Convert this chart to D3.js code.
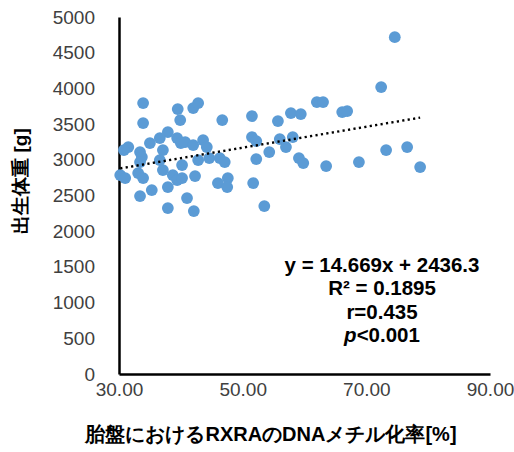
<!DOCTYPE html>
<html>
<head>
<meta charset="utf-8">
<script src="https://cdn.jsdelivr.net/npm/d3@7"></script>
<style>
  html, body { margin: 0; padding: 0; background: #fff; }
  svg { display: block; }
  text { font-family: "Liberation Sans", Arial, sans-serif; }
</style>
</head>
<body>
<script>
// ---- data ----
const methylation = [
  33.9, 33.9, 39.5, 39.9, 42.0, 42.8, 46.7, 37.9, 36.6, 35.0,
  39.4, 40.0, 40.7, 42.0, 43.6, 44.2, 31.5, 30.8, 33.4, 33.7,
  37.1, 36.6, 33.4, 42.8, 44.6, 46.3, 47.1, 40.2, 30.2, 31.0,
  33.1, 33.9, 37.1, 38.7, 39.4, 40.2, 42.3, 37.9, 35.3, 33.4,
  41.0, 37.9, 42.1, 46.0, 47.6, 47.5,
  51.5, 55.7, 57.8, 59.4, 62.0, 63.0, 66.1, 66.9, 51.5, 52.2,
  56.0, 58.1, 57.0, 54.3, 52.2, 59.1, 59.8, 63.5, 68.8, 51.7,
  53.5, 74.6, 72.4, 73.2, 76.6, 78.7
];
const birthWeight = [
  3794, 3514, 3710, 3556, 3724, 3794, 3556, 3388, 3304, 3234,
  3304, 3234, 3248, 3206, 3276, 3178, 3178, 3136, 3108, 3038,
  3136, 2996, 2968, 2996, 3024, 3024, 2968, 2926, 2786, 2744,
  2814, 2744, 2856, 2786, 2716, 2744, 2772, 2618, 2576, 2492,
  2464, 2324, 2282, 2674, 2744, 2618,
  3612, 3542, 3654, 3640, 3808, 3808, 3668, 3682, 3318, 3262,
  3290, 3318, 3178, 3108, 3010, 3024, 2954, 2912, 2968, 2674,
  2352, 4718, 4018, 3136, 3178, 2898
];
const xTicks = [30, 50, 70, 90];
const yTicks = [0, 500, 1000, 1500, 2000, 2500, 3000, 3500, 4000, 4500, 5000];
const trendSlope = 14.669;
const trendIntercept = 2436.3;
const annotationLines = ["y = 14.669x + 2436.3", "R² = 0.1895", "r=0.435"];
const xTitle = "胎盤におけるRXRAのDNAメチル化率[%]";
const yTitle = "出生体重 [g]";

// ---- layout ----
const W = 514, H = 452;
const margin = { left: 119, top: 17, right: 24, bottom: 78 };
const pw = W - margin.left - margin.right;
const ph = H - margin.top - margin.bottom;

const svg = d3.select("body").append("svg").attr("width", W).attr("height", H);
const g = svg.append("g").attr("transform", `translate(${margin.left},${margin.top})`);

const x = d3.scaleLinear().domain([30, 90]).range([0, pw]);
const y = d3.scaleLinear().domain([0, 5000]).range([ph, 0]);

// axes
const yAxis = g.append("g")
  .call(d3.axisLeft(y).tickValues(yTicks).tickSize(0).tickSizeOuter(0).tickPadding(24).tickFormat(d3.format("d")));
const xAxis = g.append("g").attr("transform", `translate(0,${ph})`)
  .call(d3.axisBottom(x).tickValues(xTicks).tickSize(0).tickSizeOuter(0).tickPadding(9).tickFormat(d3.format(".2f")));
[yAxis, xAxis].forEach(a => {
  a.select(".domain").attr("stroke", "#000").attr("stroke-width", 2.5);
  a.selectAll("text").attr("font-size", 19).attr("fill", "#404040")
    .attr("font-family", '"Liberation Sans", Arial, sans-serif');
});

// points
const pts = methylation.map((m, i) => ({ m, w: birthWeight[i] }));
g.append("g").selectAll("circle").data(pts).join("circle")
  .attr("cx", d => x(d.m)).attr("cy", d => y(d.w)).attr("r", 5.9)
  .attr("fill", "#5B9BD5");

// trendline
const xMin = d3.min(methylation), xMax = d3.max(methylation);
g.append("line")
  .attr("x1", x(xMin)).attr("y1", y(trendSlope * xMin + trendIntercept))
  .attr("x2", x(xMax)).attr("y2", y(trendSlope * xMax + trendIntercept))
  .attr("stroke", "#000").attr("stroke-width", 2.4)
  .attr("stroke-dasharray", "2.2,3.3");

// annotation
const ann = svg.append("text").attr("text-anchor", "middle")
  .attr("font-size", 20.5).attr("font-weight", "bold").attr("fill", "#000");
annotationLines.forEach((t, i) => {
  ann.append("tspan").attr("x", 382).attr("y", 272 + i * 23.3).text(t);
});
const pLine = ann.append("tspan").attr("x", 382).attr("y", 272 + 3 * 23.3);
pLine.append("tspan").attr("font-style", "italic").text("p");
pLine.append("tspan").text("<0.001");

// axis titles
svg.append("text").attr("x", 271).attr("y", 441).attr("text-anchor", "middle")
  .attr("font-size", 20).attr("font-weight", "bold").attr("fill", "#000")
  .attr("font-family", '"Liberation Sans", "Noto Sans CJK JP", sans-serif')
  .text(xTitle);
svg.append("text").attr("transform", "translate(27,181) rotate(-90)")
  .attr("text-anchor", "middle")
  .attr("font-size", 19).attr("font-weight", "bold").attr("fill", "#000")
  .attr("font-family", '"Liberation Sans", "Noto Sans CJK JP", sans-serif')
  .text(yTitle);
</script>
</body>
</html>
